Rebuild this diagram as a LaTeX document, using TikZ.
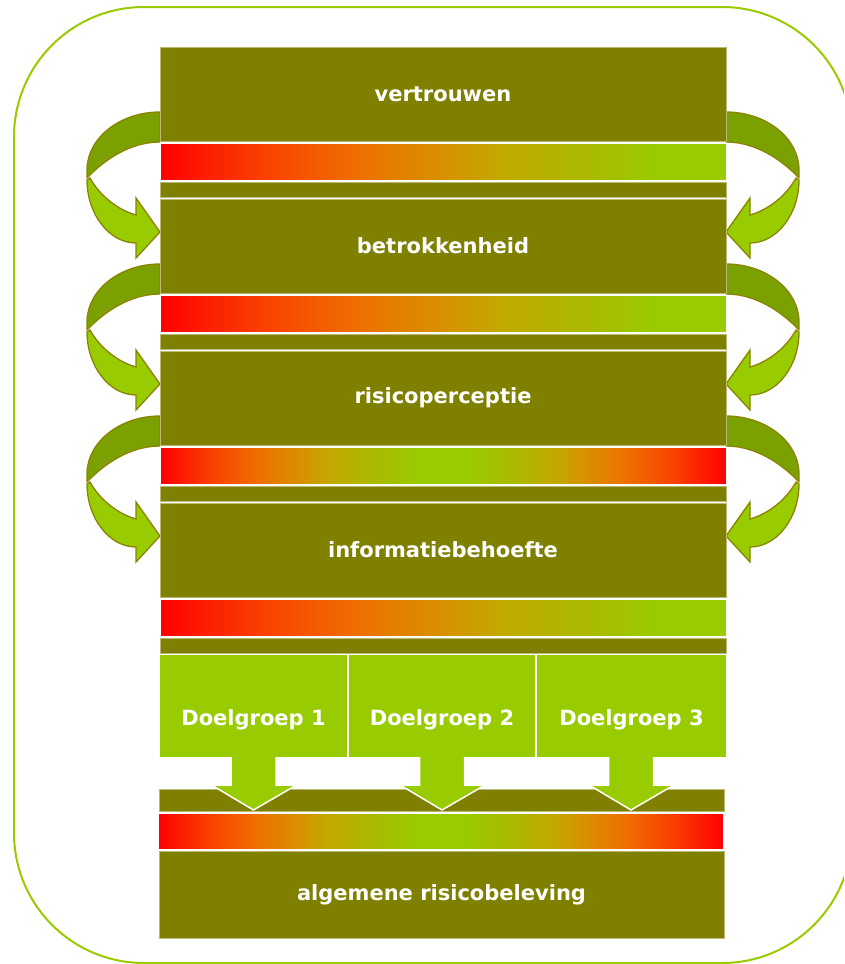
\documentclass[tikz,border=0pt]{standalone}
\usepackage{fontspec}
\setmainfont{DejaVu Sans}
\usetikzlibrary{calc}
\definecolor{olv}{RGB}{128,128,0}
\definecolor{lg}{RGB}{153,204,0}
\definecolor{dkg}{RGB}{122,161,0}
\definecolor{aline}{RGB}{140,132,0}
\pgfdeclarehorizontalshading{rgbar}{100bp}{rgb(0bp)=(1,0,0); rgb(25bp)=(1,0,0);
  rgb(35bp)=(0.973,0.275,0); rgb(42.5bp)=(0.933,0.439,0); rgb(50bp)=(0.843,0.569,0);
  rgb(55bp)=(0.765,0.659,0); rgb(62.5bp)=(0.667,0.725,0); rgb(69bp)=(0.6,0.8,0); rgb(100bp)=(0.6,0.8,0)}
\pgfdeclarehorizontalshading{rgrbar}{100bp}{rgb(0bp)=(1,0,0); rgb(25bp)=(1,0,0);
  rgb(30bp)=(0.973,0.275,0); rgb(33.75bp)=(0.933,0.439,0); rgb(37.5bp)=(0.843,0.569,0);
  rgb(40bp)=(0.765,0.659,0); rgb(43.75bp)=(0.667,0.725,0); rgb(48bp)=(0.6,0.8,0);
  rgb(52bp)=(0.6,0.8,0); rgb(56.25bp)=(0.667,0.725,0); rgb(60bp)=(0.765,0.659,0);
  rgb(62.5bp)=(0.843,0.569,0); rgb(66.25bp)=(0.933,0.439,0); rgb(70bp)=(0.973,0.275,0);
  rgb(75bp)=(1,0,0); rgb(100bp)=(1,0,0)}
\tikzset{
  lbl/.style={text=white, font=\fontsize{21}{25}\selectfont\bfseries},
  blk/.style={fill=olv, draw=olv!55!white, line width=0.6pt, minimum width=566pt, minimum height=94pt, inner sep=0pt, lbl},
  thinbar/.style={fill=olv, draw=olv!55!white, line width=0.6pt, minimum width=566pt, minimum height=15pt, inner sep=0pt},
  gbar/.style={shade, draw=white, line width=0.6pt, minimum width=566pt, minimum height=37pt, inner sep=0pt},
  dgbox/.style={fill=lg, minimum height=102pt, inner sep=0pt},
  darkband/.style={fill=dkg, draw=aline, line width=1.3pt, line join=round},
  lightband/.style={fill=lg, draw=aline, line width=1.3pt, line join=miter},
  downarrow/.style={fill=lg, draw=white, line width=1.5pt, line join=miter},
  frame/.style={draw=lg, line width=2pt, rounded corners=130pt},
  sideL/.style={},
  sideR/.style={shift={(886,0)}, xscale=-1}
}
\begin{document}
\begin{tikzpicture}[x=1pt,y=-1pt]
\useasboundingbox (0,0) rectangle (844,964);
\clip (0,0) rectangle (844,964);
\fill[white] (0,0) rectangle (844,964);
\draw[frame] (14,7) rectangle (852,963);

% curved arrows (left and mirrored right)
\foreach \i in {0,1,2}{
  \foreach \sd in {sideL,sideR}{
    \begin{scope}[shift={(0,152*\i)}]
    \begin{scope}[\sd]
      \path[darkband] (160,112) .. controls (120,112) and (87,138) .. (87,170)
        -- (87,178) .. controls (104,160) and (130,142) .. (160,142) -- cycle;
      \path[lightband] (90,178) .. controls (100,196) and (118,210) .. (136,215)
        -- (136,198) -- (160,232) -- (136,258) -- (136,243)
        .. controls (109,243) and (87,214) .. (87,180) -- cycle;
    \end{scope}
    \end{scope}
  }
}

% main blocks
\node[blk] (b0) at (443,94) {vertrouwen};
\node[gbar, shading=rgbar] (g0) at (443,161.5) {};
\node[thinbar] (t0) at (443,189.5) {};
\node[blk] (b1) at (443,246) {betrokkenheid};
\node[gbar, shading=rgbar] (g1) at (443,313.5) {};
\node[thinbar] (t1) at (443,341.5) {};
\node[blk] (b2) at (443,398) {risicoperceptie};
\node[gbar, shading=rgrbar] (g2) at (443,465.5) {};
\node[thinbar] (t2) at (443,493.5) {};
\node[blk] (b3) at (443,550) {informatiebehoefte};
\node[gbar, shading=rgbar] (g3) at (443,617.5) {};
\node[thinbar] (t3) at (443,645.5) {};

% bottom part
\node[thinbar, minimum width=565pt, minimum height=22pt] (t4) at (441.5,800) {};
\node[gbar, shading=rgrbar, minimum width=565pt, minimum height=36pt] (g4) at (440.5,831) {};
\node[blk, minimum width=565pt, minimum height=87pt] (alg) at (441.5,894.5) {algemene risicobeleving};

% arrows from doelgroep boxes
\coordinate (d1s) at (253.5,757);
\coordinate (d2s) at (442,757);
\coordinate (d3s) at (631,757);
\foreach \d in {d1s,d2s,d3s}{
  \path[downarrow] ($(\d)+(-22.5,-4)$) -- ($(\d)+(-22.5,28)$) -- ($(\d)+(-42,28)$)
    -- ($(\d)+(0,53)$) -- ($(\d)+(43,28)$) -- ($(\d)+(22.5,28)$) -- ($(\d)+(22.5,-4)$) -- cycle;
}
\node[dgbox, minimum width=187pt] (d1) at (253.5,706) {};
\node[dgbox, minimum width=186pt] (d2) at (442,706) {};
\node[dgbox, minimum width=189pt] (d3) at (631.5,706) {};
\node[lbl] (l1) at ($(d1.center)+(0,14)$) {Doelgroep 1};
\node[lbl] (l2) at ($(d2.center)+(0,14)$) {Doelgroep 2};
\node[lbl] (l3) at ($(d3.center)+(0,14)$) {Doelgroep 3};
\end{tikzpicture}
\end{document}
